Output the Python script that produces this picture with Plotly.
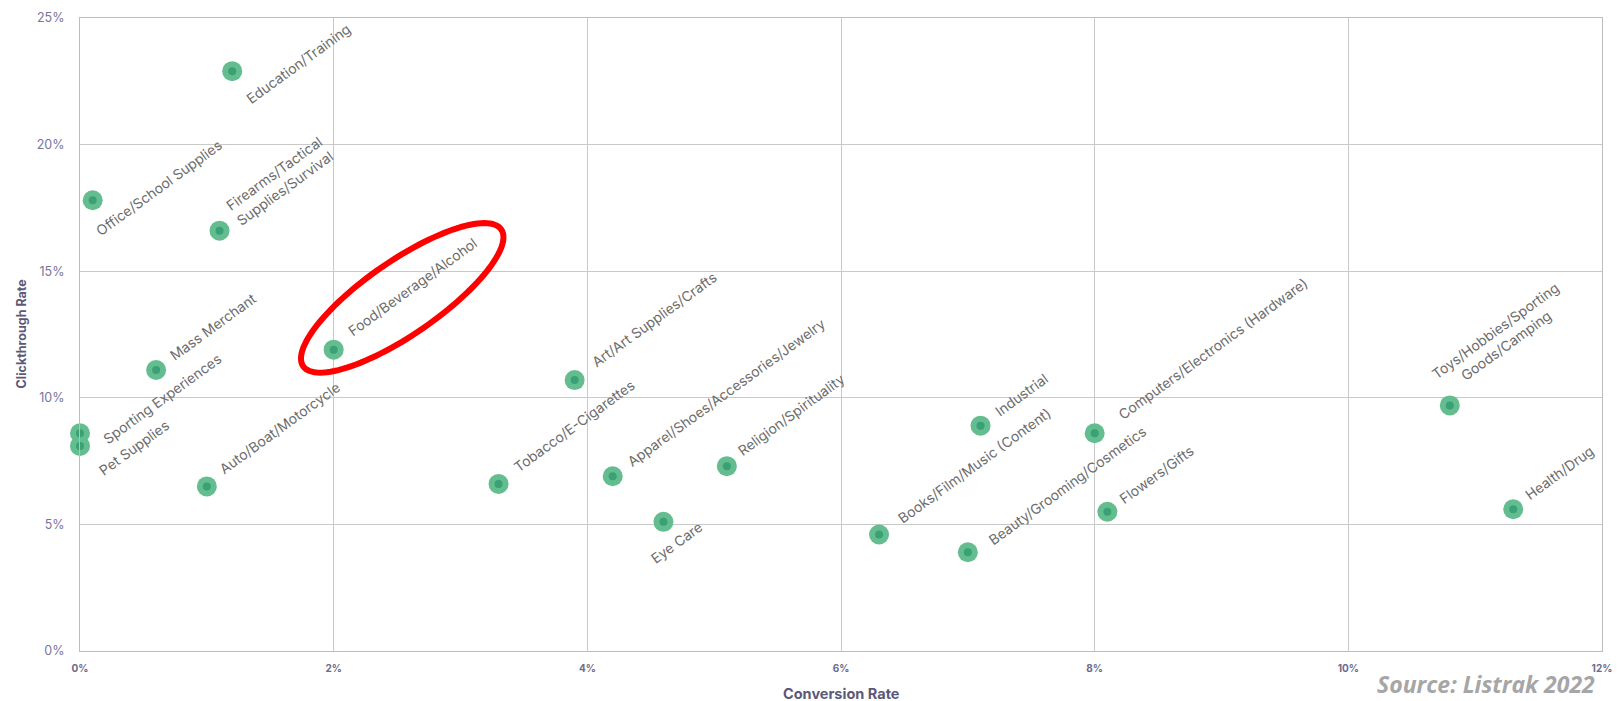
import numpy as np
import plotly.graph_objects as go

# ---------------- data ----------------
categories = [
    "Education/Training", "Office/School Supplies", "Firearms/Tactical Supplies/Survival",
    "Mass Merchant", "Sporting Experiences", "Pet Supplies", "Auto/Boat/Motorcycle",
    "Food/Beverage/Alcohol", "Art/Art Supplies/Crafts", "Tobacco/E-Cigarettes",
    "Apparel/Shoes/Accessories/Jewelry", "Religion/Spirituality", "Eye Care",
    "Industrial", "Books/Film/Music (Content)", "Beauty/Grooming/Cosmetics",
    "Computers/Electronics (Hardware)", "Flowers/Gifts",
    "Toys/Hobbies/Sporting Goods/Camping", "Health/Drug",
]
conversion_rate = [1.2, 0.1, 1.1, 0.6, 0.0, 0.0, 1.0, 2.0, 3.9, 3.3,
                   4.2, 5.1, 4.6, 7.1, 6.3, 7.0, 8.0, 8.1, 10.8, 11.3]
clickthrough_rate = [22.9, 17.8, 16.6, 11.1, 8.6, 8.1, 6.5, 11.9, 10.7, 6.6,
                     6.9, 7.3, 5.1, 8.9, 4.6, 3.9, 8.6, 5.5, 9.7, 5.6]

x_tick_vals = [0, 2, 4, 6, 8, 10, 12]
x_tick_text = ["0%", "2%", "4%", "6%", "8%", "10%", "12%"]
y_tick_vals = [0, 5, 10, 15, 20, 25]
y_tick_text = ["0%", "5%", "10%", "15%", "20%", "25%"]

highlight = "Food/Beverage/Alcohol"

# ---------------- style / layout ----------------
W, H = 1622, 701
M = dict(l=80, r=10, t=16, b=50)
X_RANGE = [0, 12]
Y_RANGE = [0, 25]
plot_w = W - M["l"] - M["r"]
plot_h = H - M["t"] - M["b"]
sx = (X_RANGE[1] - X_RANGE[0]) / plot_w   # data units per px
sy = (Y_RANGE[1] - Y_RANGE[0]) / plot_h

label_text = {
    "Firearms/Tactical Supplies/Survival": "Firearms/Tactical<br>Supplies/Survival",
    "Toys/Hobbies/Sporting Goods/Camping": "Toys/Hobbies/Sporting<br>Goods/Camping",
}
# label centre offset from point in px (right, down)
label_offset = {
    "Education/Training": (66, -8),
    "Office/School Supplies": (66, -13),
    "Firearms/Tactical Supplies/Survival": (60, -50),
    "Mass Merchant": (57, -43),
    "Sporting Experiences": (82, -35),
    "Pet Supplies": (54, 2),
    "Auto/Boat/Motorcycle": (73, -59),
    "Food/Beverage/Alcohol": (79, -63),
    "Art/Art Supplies/Crafts": (79, -61),
    "Tobacco/E-Cigarettes": (76, -58),
    "Apparel/Shoes/Accessories/Jewelry": (113, -84),
    "Religion/Spirituality": (64, -52),
    "Eye Care": (13, 21),
    "Industrial": (41, -31),
    "Books/Film/Music (Content)": (95, -69),
    "Beauty/Grooming/Cosmetics": (99, -67),
    "Computers/Electronics (Hardware)": (118, -85),
    "Flowers/Gifts": (49, -37),
    "Toys/Hobbies/Sporting Goods/Camping": (51, -68),
    "Health/Drug": (46, -37),
}

LABEL_FONT = dict(family="Inter, Roboto, sans-serif", size=14, color="#6c6c6c")
TICK_COLOR = "#6d6a8c"
GRID = "#c9c9c9"

fig = go.Figure()
fig.add_trace(go.Scatter(
    x=conversion_rate, y=clickthrough_rate, mode="markers",
    marker=dict(size=20, color="#63bd8f", line=dict(width=0)),
    hoverinfo="skip", showlegend=False, cliponaxis=False,
))
fig.add_trace(go.Scatter(
    x=conversion_rate, y=clickthrough_rate, mode="markers",
    marker=dict(size=8, color="#3aa076", line=dict(width=0)),
    text=categories, hoverinfo="text", showlegend=False, cliponaxis=False,
))

annotations = []
for name, xv, yv in zip(categories, conversion_rate, clickthrough_rate):
    dx, dy = label_offset[name]
    annotations.append(dict(
        x=xv, y=yv, xref="x", yref="y", text=label_text.get(name, name),
        showarrow=False, textangle=-36, xanchor="center", yanchor="middle",
        xshift=dx, yshift=-dy, font=LABEL_FONT, align="center", borderpad=0,
    ))

# axis titles and source
annotations.append(dict(
    text="<b>Conversion Rate</b>", xref="paper", yref="paper", x=0.5, y=0,
    yshift=-42, xanchor="center", yanchor="middle", showarrow=False,
    font=dict(family="Inter, sans-serif", size=14.5, color="#5b5878"),
))
annotations.append(dict(
    text="<b>Clickthrough Rate</b>", xref="paper", yref="paper", x=0, y=0.5,
    xshift=-59, xanchor="center", yanchor="middle", textangle=-90, showarrow=False,
    font=dict(family="Inter, sans-serif", size=12.5, color="#5b5878"),
))
annotations.append(dict(
    text="<b><i>Source: Listrak 2022</i></b>", xref="paper", yref="paper", x=1, y=0,
    xshift=-6, yshift=-33, xanchor="right", yanchor="middle", showarrow=False,
    borderpad=0, font=dict(family="Open Sans, sans-serif", size=23, color="#a6a6a6"),
))

# red highlight ellipse around the Food/Beverage/Alcohol label
hi = categories.index(highlight)
fx, fy = conversion_rate[hi], clickthrough_rate[hi]
cx_px, cy_px = 69, 52          # centre offset (right, up) in px
a_px, b_px, phi = 121, 37, np.deg2rad(34.5)
t = np.linspace(0, 2 * np.pi, 121)
ex = a_px * np.cos(t) * np.cos(phi) - b_px * np.sin(t) * np.sin(phi)
ey = a_px * np.cos(t) * np.sin(phi) + b_px * np.sin(t) * np.cos(phi)
px_ = fx + (cx_px + ex) * sx
py_ = fy + (cy_px + ey) * sy
path = "M " + " L ".join(f"{u:.5f},{v:.5f}" for u, v in zip(px_, py_)) + " Z"

fig.update_layout(
    width=W, height=H, margin=M,
    paper_bgcolor="white", plot_bgcolor="white",
    annotations=annotations,
    shapes=[dict(type="path", path=path, xref="x", yref="y",
                 line=dict(color="#ff0000", width=6), layer="above")],
    xaxis=dict(
        range=X_RANGE, tickvals=x_tick_vals, ticktext=x_tick_text,
        showgrid=True, gridcolor=GRID, gridwidth=1, zeroline=False,
        showline=True, linecolor="#bdbdbd", linewidth=1, mirror=True,
        ticks="", ticklabelstandoff=8,
        tickfont=dict(family="Inter, sans-serif", size=10, color=TICK_COLOR, weight="bold"),
    ),
    yaxis=dict(
        range=Y_RANGE, tickvals=y_tick_vals, ticktext=y_tick_text,
        showgrid=True, gridcolor=GRID, gridwidth=1, zeroline=False,
        showline=True, linecolor="#bdbdbd", linewidth=1, mirror=True,
        ticks="", ticklabelstandoff=12,
        tickfont=dict(family="Inter, sans-serif", size=12.5, color="#77749a"),
    ),
)

fig.write_html("out.html")
